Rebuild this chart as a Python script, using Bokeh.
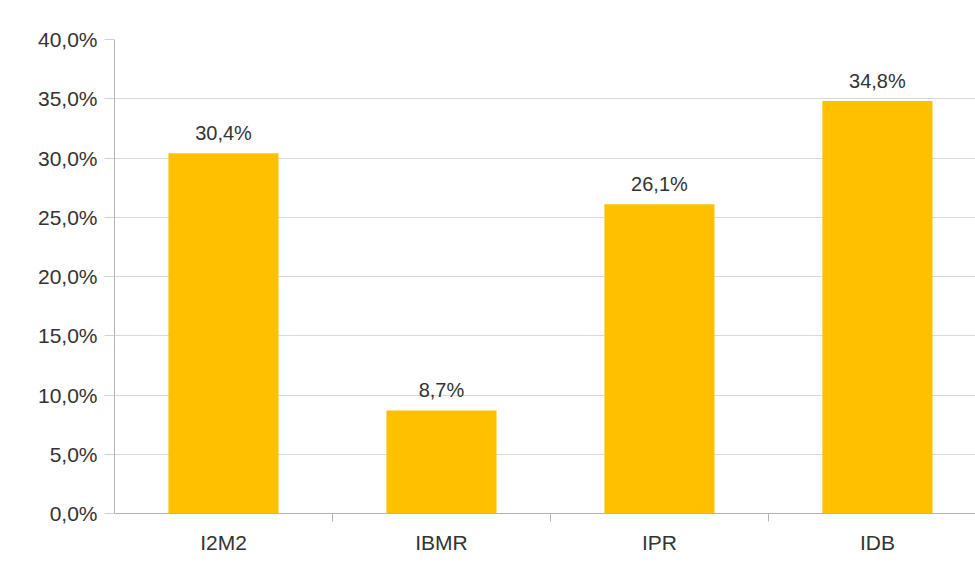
from bokeh.plotting import figure
from bokeh.models import Range1d, FixedTicker, ColumnDataSource
from bokeh.embed import file_html
from bokeh.resources import INLINE
from bokeh.core.properties import value

categories = ["I2M2", "IBMR", "IPR", "IDB"]
values = [30.4, 8.7, 26.1, 34.8]
bar_labels = ["30,4%", "8,7%", "26,1%", "34,8%"]
y_ticks = [0, 5, 10, 15, 20, 25, 30, 35, 40]
y_tick_labels = ["0,0%", "5,0%", "10,0%", "15,0%", "20,0%", "25,0%", "30,0%", "35,0%", "40,0%"]

xpos = [i + 0.5 for i in range(len(categories))]
src = ColumnDataSource(dict(x=xpos, top=values, lab=bar_labels))

FONT = "Liberation Sans"

p = figure(width=975, height=562, output_backend="svg", toolbar_location=None,
           x_range=Range1d(0, 3.95), y_range=Range1d(0, 40),
           min_border_left=114, min_border_right=0, min_border_top=39, min_border_bottom=49)
p.outline_line_color = None
p.background_fill_color = "white"
p.border_fill_color = "white"

p.vbar(x="x", top="top", bottom=0, width=0.505, source=src,
       fill_color="#FFC000", line_color=None)

p.text(x="x", y="top", text="lab", source=src, text_align="center",
       text_baseline="alphabetic", y_offset=-20, text_font=value(FONT),
       text_font_size="20px", text_color="#333333")

# y axis
p.yaxis.ticker = FixedTicker(ticks=y_ticks)
p.yaxis.major_label_overrides = {t: l for t, l in zip(y_ticks, y_tick_labels)}
p.yaxis.axis_line_color = "#b3b3b3"
p.yaxis.major_tick_line_color = "#d0d0d0"
p.yaxis.major_tick_out = 10
p.yaxis.major_tick_in = 0
p.yaxis.minor_tick_line_color = None
p.yaxis.major_label_standoff = 7
p.yaxis.major_label_text_font = FONT
p.yaxis.major_label_text_font_size = "21px"
p.yaxis.major_label_text_color = "#333333"

# x axis
p.xaxis.ticker = FixedTicker(ticks=xpos, minor_ticks=[1, 2, 3])
p.xaxis.major_label_overrides = {x: c for x, c in zip(xpos, categories)}
p.xaxis.axis_line_color = "#b3b3b3"
p.xaxis.major_tick_line_color = None
p.xaxis.minor_tick_line_color = "#b3b3b3"
p.xaxis.minor_tick_out = 8
p.xaxis.minor_tick_in = 0
p.xaxis.major_label_standoff = 9
p.xaxis.major_label_text_font = FONT
p.xaxis.major_label_text_font_size = "21px"
p.xaxis.major_label_text_color = "#333333"

p.xgrid.grid_line_color = None
p.ygrid.ticker = FixedTicker(ticks=y_ticks)
p.ygrid.grid_line_color = "#d9d9d9"

open("out.html", "w").write(file_html(p, INLINE))
